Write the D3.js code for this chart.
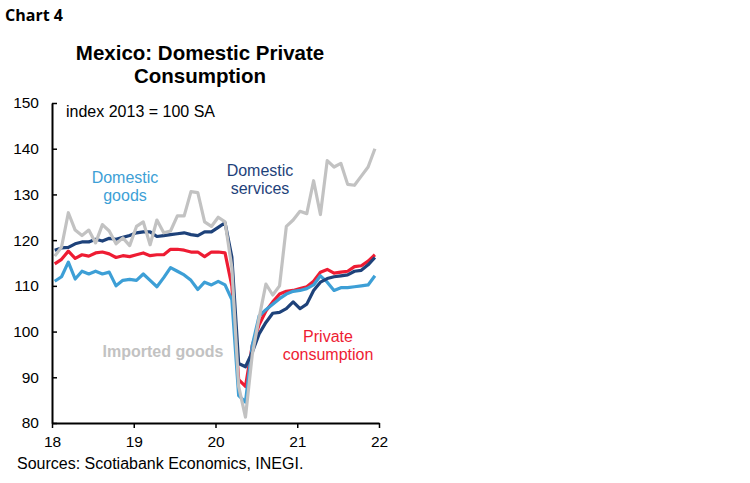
<!DOCTYPE html>
<html>
<head>
<meta charset="utf-8">
<script src="https://cdn.jsdelivr.net/npm/d3@7"></script>
<style>
  body { margin: 0; background: #fff; }
  text { font-family: "Liberation Sans", Arial, sans-serif; }
</style>
</head>
<body>
<div id="chart"></div>
<script>
// monthly, Jan 2018 .. Dec 2021
var privateConsumption = [
  114.8, 115.8, 117.6, 116.0, 116.8, 116.5, 117.2, 117.4, 117.0, 116.2, 116.6, 116.4,
  116.8, 117.2, 116.6, 116.8, 116.8, 118.0, 118.0, 117.8, 117.4, 117.4, 116.4, 117.4,
  117.4, 117.2, 110.0, 89.5, 88.0, 97.0, 101.5, 104.5, 106.5, 108.2, 108.8, 109.0,
  109.4, 109.8, 111.0, 113.0, 113.6, 112.8, 113.0, 113.2, 114.2, 114.4, 115.4, 116.8
];
var domesticGoods = [
  111.0, 112.0, 115.2, 111.5, 113.2, 112.6, 113.2, 112.6, 113.0, 110.0, 111.2, 111.4,
  111.2, 112.6, 111.2, 109.8, 111.8, 114.0, 113.2, 112.4, 111.2, 109.2, 110.8, 110.2,
  111.0, 110.2, 107.0, 86.0, 84.6, 97.0, 103.4, 104.8, 106.0, 107.2, 108.2, 108.8,
  109.0, 109.4, 110.2, 112.2, 110.8, 109.0, 109.6, 109.6, 109.8, 110.0, 110.2, 112.2
];
var domesticServices = [
  117.8, 118.3, 118.4, 119.2, 119.6, 119.6, 120.2, 119.8, 120.4, 120.2, 120.6, 121.0,
  121.6, 121.8, 121.8, 120.8, 121.0, 121.2, 121.4, 121.6, 121.2, 121.0, 121.8, 121.8,
  122.8, 123.8, 116.3, 93.0, 92.3, 95.5, 99.5, 102.0, 104.0, 104.2, 105.0, 106.5,
  105.0, 106.0, 109.0, 110.8, 111.6, 112.0, 112.2, 112.4, 113.2, 113.4, 114.6, 116.2
];
var importedGoods = [
  116.5, 118.5, 126.0, 122.2, 121.0, 122.2, 119.4, 123.4, 122.0, 119.2, 120.5, 118.8,
  123.0, 124.0, 119.0, 124.4, 121.6, 122.0, 125.3, 125.3, 130.6, 130.4, 124.0, 123.0,
  125.0, 124.0, 114.0, 88.0, 81.3, 95.0, 103.0, 110.4, 108.0, 110.0, 123.0, 124.4,
  126.3, 125.8, 133.0, 125.6, 137.4, 136.0, 136.8, 132.2, 132.0, 134.0, 136.0, 140.0
];
var yTicks = [80, 90, 100, 110, 120, 130, 140, 150];
var xTicks = [0, 12, 24, 36, 48];
var xTickLabels = ["18", "19", "20", "21", "22"];

var series = [
  {name: "private", values: privateConsumption, color: "#ee1c33"},
  {name: "goods", values: domesticGoods, color: "#3d9fd6"},
  {name: "services", values: domesticServices, color: "#1e427a"},
  {name: "imported", values: importedGoods, color: "#c2c2c2"}
];

var width = 750, height = 483;
var plot = {left: 52, right: 379, top: 103, bottom: 423};

var svg = d3.select("#chart").append("svg")
  .attr("width", width)
  .attr("height", height);

svg.append("rect").attr("width", width).attr("height", height).attr("fill", "#fff");

var x = d3.scaleLinear().domain([0, 48]).range([plot.left, plot.right]);
var y = d3.scaleLinear().domain([80, 150]).range([plot.bottom, plot.top]);

// months sit a little right of the year tick
function X(d, i) { return x(i + 0.4); }
function Y(d) { return y(d); }

var line = d3.line().x(X).y(Y);

svg.selectAll("path.series")
  .data(series)
  .enter().append("path")
  .attr("class", "series")
  .attr("fill", "none")
  .attr("stroke", function(d) { return d.color; })
  .attr("stroke-width", 3.2)
  .attr("stroke-linejoin", "round")
  .attr("d", function(d) { return line(d.values); });

// axes
var yAxis = d3.axisLeft(y).tickValues(yTicks).tickSizeInner(-5).tickSizeOuter(0).tickPadding(13);
var gy = svg.append("g")
  .attr("transform", "translate(" + plot.left + ",0)")
  .call(yAxis);

var xAxis = d3.axisBottom(x).tickValues(xTicks).tickSize(5).tickSizeOuter(0).tickPadding(8)
  .tickFormat(function(d, i) { return xTickLabels[i]; });
var gx = svg.append("g")
  .attr("transform", "translate(0," + plot.bottom + ")")
  .call(xAxis);

[gx, gy].forEach(function(g) {
  g.select(".domain").attr("stroke", "#000").attr("stroke-width", 2);
  g.selectAll(".tick line").attr("stroke", "#000").attr("stroke-width", 1.5);
  g.selectAll(".tick text")
    .attr("fill", "#000")
    .style("font-family", "'Liberation Sans', Arial, sans-serif")
    .style("font-size", "15.5px");
});

// titles and notes
svg.append("text")
  .attr("x", 5).attr("y", 21)
  .style("font-family", "'Open Sans', sans-serif")
  .style("font-weight", "bold")
  .style("font-size", "16px")
  .text("Chart 4");

var title = svg.append("text")
  .attr("text-anchor", "middle")
  .style("font-weight", "bold")
  .style("font-size", "20.5px");
title.append("tspan").attr("x", 200).attr("y", 60).text("Mexico: Domestic Private");
title.append("tspan").attr("x", 200).attr("y", 83).text("Consumption");

svg.append("text")
  .attr("x", 66).attr("y", 117)
  .style("font-size", "16px")
  .text("index 2013 = 100 SA");

svg.append("text")
  .attr("x", 17).attr("y", 469)
  .style("font-size", "16px")
  .text("Sources: Scotiabank Economics, INEGI.");

// series labels
function label(lines, cx, y0, color, bold) {
  var t = svg.append("text")
    .attr("text-anchor", "middle")
    .attr("fill", color)
    .style("font-size", "16px")
    .style("font-weight", bold ? "bold" : "normal");
  lines.forEach(function(s, i) {
    t.append("tspan").attr("x", cx).attr("y", y0 + i * 17.5).text(s);
  });
}
label(["Domestic", "goods"], 125, 183, "#3d9fd6");
label(["Domestic", "services"], 260, 176, "#1e427a");
label(["Imported goods"], 163, 357, "#c2c2c2", true);
label(["Private", "consumption"], 328, 342, "#ee1c33");
</script>
</body>
</html>
